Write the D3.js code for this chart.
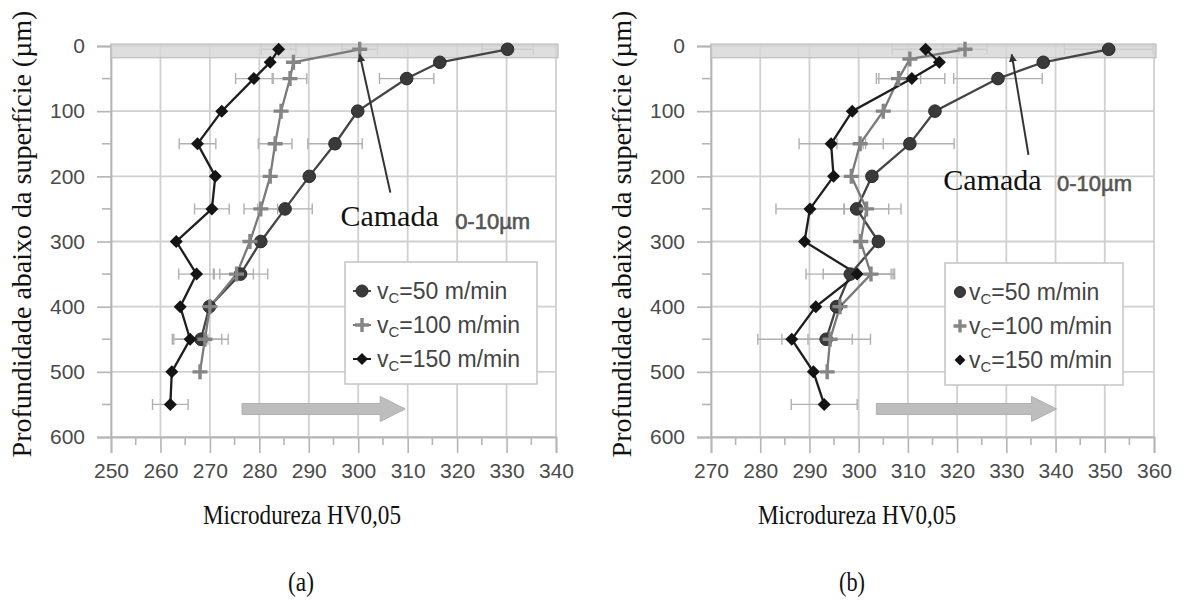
<!DOCTYPE html>
<html><head><meta charset="utf-8">
<script src="https://cdn.jsdelivr.net/npm/d3@7"></script>
<style>
html,body{margin:0;padding:0;background:#fff;}
svg{display:block;}
</style></head>
<body>
<svg id="chart" width="1184" height="615"></svg>
<script>
// ---------------- DATA ----------------
// Panel (a)
const xTicksA = [250,260,270,280,290,300,310,320,330,340];
const depthA50  = [5,25,50,100,150,200,250,300,350,400,450];
const hvA50     = [330.2,316.5,309.8,299.9,295.3,290.1,285.2,280.3,276.2,269.9,268.2];
const errA50    = [5.2,0,5.5,0,5.5,0,5.5,0,5.5,0,5.5];
const depthA100 = [5,25,50,100,150,200,250,300,350,400,450,500];
const hvA100    = [300.3,286.9,286.2,284.4,283.2,282.2,280.3,278.1,275.4,270.0,269.0,268.0];
const errA100   = [3.6,0,3.4,0,3.4,0,3.4,0,3.4,0,3.4,0];
const depthA150 = [5,25,50,100,150,200,250,300,350,400,450,500,550];
const hvA150    = [283.9,282.2,278.9,272.4,267.5,271.1,270.4,263.2,267.3,264.0,266.0,262.3,262.0];
const errA150   = [3.5,0,3.7,0,3.7,0,3.5,0,3.6,0,3.6,0,3.6];
// Panel (b)
const xTicksB = [270,280,290,300,310,320,330,340,350,360];
const depthB50  = [5,25,50,100,150,200,250,300,350,400,450];
const hvB50     = [350.8,337.5,328.3,315.5,310.4,302.7,299.6,304.0,298.3,295.5,293.4];
const errB50    = [9,0,9,0,9,0,9,0,9,0,9];
const depthB100 = [5,20,50,100,150,200,250,300,350,400,450,500];
const hvB100    = [321.6,310.4,308.1,305.0,300.3,298.5,301.6,300.4,302.5,296.2,294.2,293.6];
const errB100   = [4.5,0,4.5,0,4.7,0,4.5,0,4.5,0,4.5,0];
const depthB150 = [5,25,50,100,150,200,250,300,350,400,450,500,550];
const hvB150    = [313.6,316.4,310.8,298.7,294.4,294.9,290.1,289.0,299.7,291.3,286.4,290.8,293.0];
const errB150   = [6.8,0,6.7,0,6.5,0,6.9,0,6.9,0,6.9,0,6.7];

const yTicks = [0,100,200,300,400,500,600];
const seriesNames = ["50","100","150"];
const yTitle = "Profundidade abaixo da superfície (µm)";
const xTitle = "Microdureza HV0,05";

// ---------------- DRAW ----------------
const svg = d3.select("#chart");
const defs = svg.append("defs");
defs.append("marker").attr("id","ah").attr("viewBox","0 0 10 10").attr("refX",9).attr("refY",5)
  .attr("markerWidth",4).attr("markerHeight",4).attr("orient","auto-start-reverse")
  .append("path").attr("d","M0,0L10,5L0,10z").attr("fill","#333");

const styles = {
  "50":  {line:"#454545", fill:"#3a3a3a", shape:"circle"},
  "100": {line:"#7a7a7a", fill:"#858585", shape:"plus"},
  "150": {line:"#1e1e1e", fill:"#141414", shape:"diamond"}
};

function drawMarker(g, shape, cx, cy, s, col) {
  if (shape==="circle") {
    g.append("circle").attr("cx",cx).attr("cy",cy).attr("r",s).attr("fill",col).attr("stroke","#2a2a2a").attr("stroke-width",1);
  } else if (shape==="plus") {
    g.append("path").attr("d",`M${cx-s-1},${cy}H${cx+s+1}M${cx},${cy-s-1}V${cy+s+1}`)
      .attr("stroke",col).attr("stroke-width",3.4).attr("fill","none");
  } else {
    g.append("path").attr("d",`M${cx},${cy-s}L${cx+s},${cy}L${cx},${cy+s}L${cx-s},${cy}Z`).attr("fill",col);
  }
}

function panel(cfg) {
  const x = d3.scaleLinear().domain(cfg.xDomain).range(cfg.xRange);
  const y = d3.scaleLinear().domain([0,600]).range([46,437]);
  const g = svg.append("g");
  const [x0,x1] = cfg.xRange;
  const gridCol = "#d0d0d0";

  // vertical grid
  g.selectAll(".vg").data(cfg.xTicks).join("line")
    .attr("x1",d=>x(d)).attr("x2",d=>x(d)).attr("y1",y(-3)).attr("y2",y(600))
    .attr("stroke",gridCol).attr("stroke-width",1.8);
  // horizontal grid
  g.selectAll(".hg").data(yTicks).join("line")
    .attr("x1",x0).attr("x2",x1).attr("y1",d=>y(d)).attr("y2",d=>y(d))
    .attr("stroke",gridCol).attr("stroke-width",1.8);

  // y axis
  const ya = d3.axisLeft(y).tickValues(yTicks).tickSize(14).tickPadding(12);
  const yg = g.append("g").attr("transform",`translate(${x0},0)`).call(ya);
  // x axis
  const xa = d3.axisBottom(x).tickValues(cfg.xTicks).tickSize(16).tickPadding(10);
  const xg = g.append("g").attr("transform",`translate(0,${y(600)})`).call(xa);
  [yg,xg].forEach(a=>{
    a.select(".domain").attr("stroke","#b5b5b5").attr("stroke-width",1.8);
    a.selectAll(".tick line").attr("stroke","#b5b5b5").attr("stroke-width",1.6);
    a.selectAll(".tick text").attr("fill","#4a4a4a").attr("font-family","Liberation Sans, Arial, sans-serif").attr("font-size",21);
  });
  // minor ticks
  const minorY = d3.range(50,600,100);
  g.selectAll(".my").data(minorY).join("line")
    .attr("x1",x0-9).attr("x2",x0).attr("y1",d=>y(d)).attr("y2",d=>y(d))
    .attr("stroke","#b5b5b5").attr("stroke-width",1.6);
  const minorX = cfg.xTicks.slice(0,-1).map(v=>v+5);
  g.selectAll(".mx").data(minorX).join("line")
    .attr("x1",d=>x(d)).attr("x2",d=>x(d)).attr("y1",y(600)).attr("y2",y(600)+8)
    .attr("stroke","#b5b5b5").attr("stroke-width",1.6);

  // error bars
  cfg.series.forEach(s=>{
    s.depth.forEach((d,i)=>{
      const e = s.err[i]; if (!e) return;
      const yy = y(d), xa_ = x(s.hv[i]-e), xb_ = x(s.hv[i]+e);
      g.append("path").attr("d",`M${xa_},${yy}H${xb_}M${xa_},${yy-5.5}V${yy+5.5}M${xb_},${yy-5.5}V${yy+5.5}`)
        .attr("stroke","#b0b0b0").attr("stroke-width",1.4).attr("fill","none");
    });
  });

  // grey band (surface layer)
  g.append("rect").attr("x",x0).attr("width",x1-x0+2).attr("y",y(-3)).attr("height",y(18)-y(-3))
    .attr("fill","#d6d6d6").attr("fill-opacity",0.8).attr("stroke","#bdbdbd").attr("stroke-width",1.2);

  // lines + markers
  cfg.series.forEach(s=>{
    const st = styles[s.name];
    const pts = s.depth.map((d,i)=>[x(s.hv[i]), y(d)]);
    g.append("path").attr("d",d3.line()(pts)).attr("fill","none").attr("stroke",st.line).attr("stroke-width",2.3);
  });
  cfg.series.forEach(s=>{
    const st = styles[s.name];
    s.depth.forEach((d,i)=>drawMarker(g, st.shape, x(s.hv[i]), y(d), st.shape==="circle"?6.3:6.5, st.fill));
  });

  // big grey arrow
  const ay = y(cfg.bigArrow[2]);
  const ax0 = x(cfg.bigArrow[0]), ax1 = x(cfg.bigArrow[1]);
  g.append("path").attr("d",`M${ax0},${ay-5.5}H${ax1-25}V${ay-12.5}L${ax1},${ay}L${ax1-25},${ay+12.5}V${ay+5.5}H${ax0}Z`)
    .attr("fill","#bdbdbd").attr("stroke","#b0b0b0").attr("stroke-width",1);

  // annotation arrow
  g.append("line").attr("x1",x(cfg.annot.from[0])).attr("y1",y(cfg.annot.from[1]))
    .attr("x2",x(cfg.annot.to[0])).attr("y2",y(cfg.annot.to[1]))
    .attr("stroke","#333").attr("stroke-width",2).attr("marker-end","url(#ah)");
  g.append("text").attr("x",x(cfg.annot.text[0])).attr("y",y(cfg.annot.text[1]))
    .attr("font-family","Liberation Serif, Times New Roman, serif").attr("font-size",30).attr("fill","#111").text("Camada");
  g.append("text").attr("x",x(cfg.annot.text2[0])).attr("y",y(cfg.annot.text2[1]))
    .attr("font-family","Liberation Sans, Arial, sans-serif").attr("font-size",22)
    .attr("fill","#555").attr("stroke","#555").attr("stroke-width",0.6).text("0-10µm");

  // legend
  const L = cfg.legend;
  g.append("rect").attr("x",L.x).attr("y",L.y).attr("width",L.w).attr("height",L.h)
    .attr("fill","#fff").attr("stroke","#c4c4c4").attr("stroke-width",1.5);
  cfg.series.forEach((s,i)=>{
    const st = styles[s.name];
    const cy = L.y + 29 + i*34;
    const mx = L.mx;
    if (L.lines) g.append("line").attr("x1",mx-9).attr("x2",mx+9).attr("y1",cy).attr("y2",cy).attr("stroke",st.line).attr("stroke-width",2);
    drawMarker(g, st.shape, mx, cy, L.ms, st.fill);
    const t = g.append("text").attr("x",L.tx).attr("y",cy+7.5)
      .attr("font-family","Liberation Sans, Arial, sans-serif").attr("font-size",23).attr("fill","#444");
    t.append("tspan").text("v");
    t.append("tspan").attr("font-size",15).attr("dy",4).text("C");
    t.append("tspan").attr("dy",-4).text("=" + s.name + " m/min");
  });

  // titles
  g.append("text").attr("transform",`translate(${cfg.yTitleX},${cfg.yTitleY}) rotate(-90)`)
    .attr("text-anchor","middle").attr("font-family","Liberation Serif, Times New Roman, serif")
    .attr("font-size",28).attr("fill","#111").text(yTitle);
  g.append("text").attr("x",cfg.xTitleX).attr("y",524).attr("text-anchor","middle")
    .attr("font-family","Liberation Serif, Times New Roman, serif").attr("font-size",27)
    .attr("textLength",198).attr("lengthAdjust","spacingAndGlyphs").attr("fill","#111").text(xTitle);
  g.append("text").attr("x",cfg.labX).attr("y",591).attr("text-anchor","middle")
    .attr("font-family","Liberation Serif, Times New Roman, serif").attr("font-size",27)
    .attr("textLength",26).attr("lengthAdjust","spacingAndGlyphs").attr("fill","#111").text(cfg.lab);
}

panel({
  xDomain:[250,340], xRange:[111,556], xTicks:xTicksA,
  series:[
    {name:"50", depth:depthA50, hv:hvA50, err:errA50},
    {name:"100", depth:depthA100, hv:hvA100, err:errA100},
    {name:"150", depth:depthA150, hv:hvA150, err:errA150}
  ],
  bigArrow:[276.5,309.5,557],
  annot:{from:[306.5,225], to:[300.3,13], text:[296.4,276], text2:[319.6,281]},
  legend:{x:345,y:262,w:192,h:122,mx:362,tx:377,ms:6,lines:true},
  yTitleX:31, yTitleY:234, xTitleX:302, labX:301, lab:"(a)"
});
panel({
  xDomain:[270,360], xRange:[711,1154], xTicks:xTicksB,
  series:[
    {name:"50", depth:depthB50, hv:hvB50, err:errB50},
    {name:"100", depth:depthB100, hv:hvB100, err:errB100},
    {name:"150", depth:depthB150, hv:hvB150, err:errB150}
  ],
  bigArrow:[303.6,340.2,557],
  annot:{from:[334.5,167], to:[331.1,13], text:[317.2,221], text2:[340.3,223]},
  legend:{x:945,y:263,w:178,h:122,mx:960,tx:969,ms:5.5,lines:false},
  yTitleX:631, yTitleY:234, xTitleX:857, labX:852, lab:"(b)"
});
</script>
</body></html>
